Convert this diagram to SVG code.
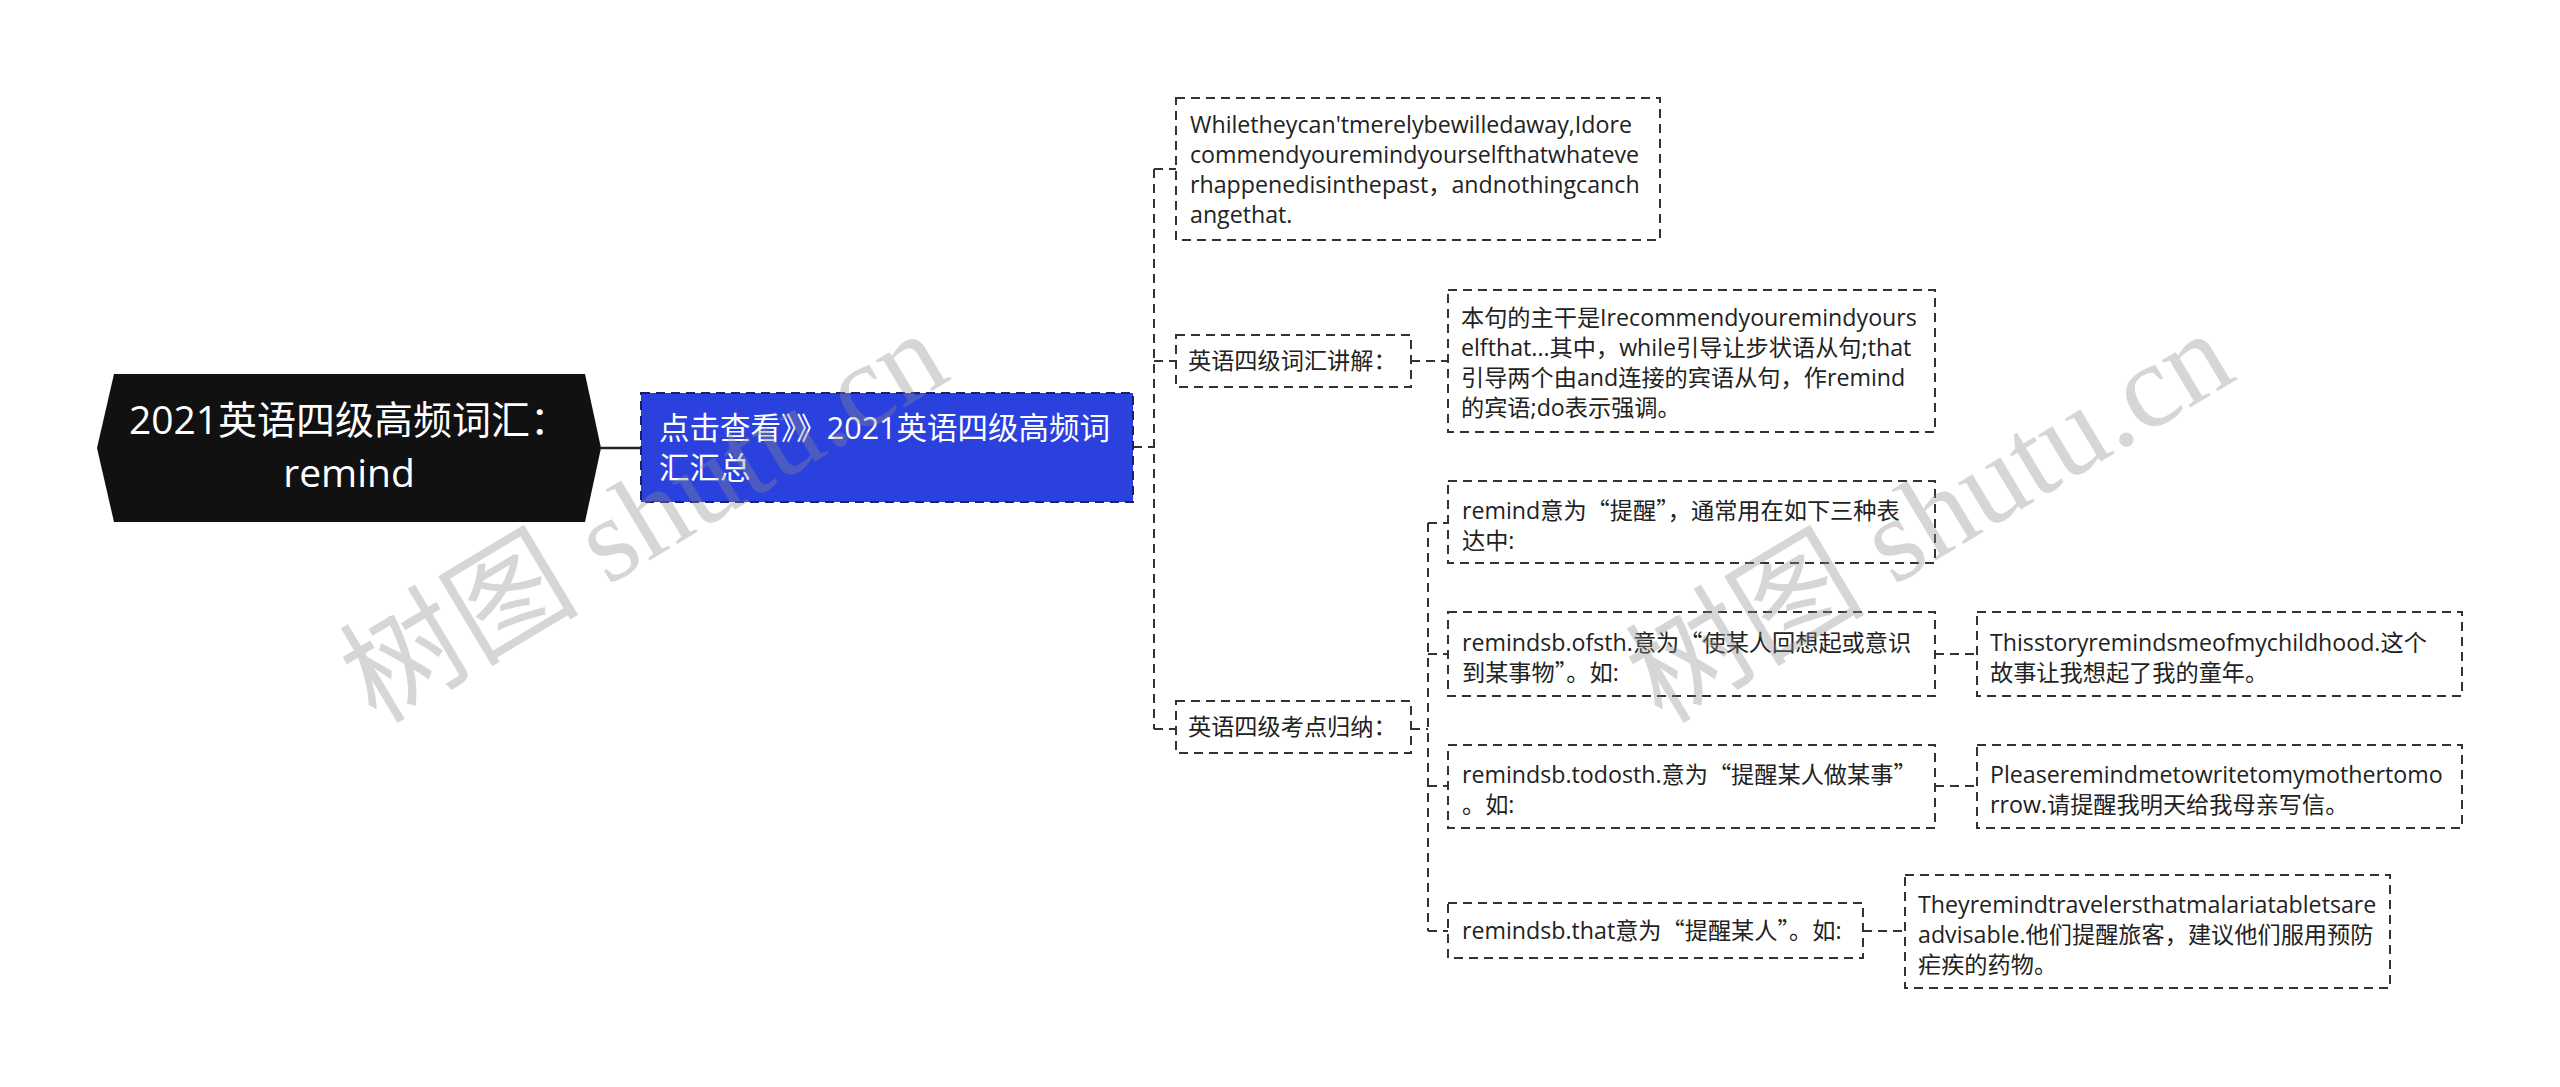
<svg xmlns="http://www.w3.org/2000/svg" width="2560" height="1087" viewBox="0 0 2560 1087">
<style>
.box{fill:#fff;stroke:#333;stroke-width:2;stroke-dasharray:9 6}
.t{font-family:"Open Sans","Noto Sans CJK SC",sans-serif;font-size:23.2px;fill:#222}
.q{font-family:"Noto Sans CJK SC",sans-serif}
.c{fill:none;stroke:#333;stroke-width:2;stroke-dasharray:9 6}
.wm{font-family:"Liberation Serif","Noto Sans CJK SC",serif;font-size:120px;fill:#8c8c8c;opacity:0.35}
</style>
<rect x="0" y="0" width="2560" height="1087" fill="#fff"/>

<g id="connectors">
  <line x1="601" y1="448" x2="641" y2="448" stroke="#222" stroke-width="2.5"/>
  <path class="c" d="M1133 447 H1154"/>
  <path class="c" d="M1154 169 V729"/>
  <path class="c" d="M1154 169 H1176"/>
  <path class="c" d="M1154 361 H1176"/>
  <path class="c" d="M1154 729 H1176"/>
  <path class="c" d="M1411 361 H1448"/>
  <path class="c" d="M1411 729 H1428"/>
  <path class="c" d="M1428 523 V931"/>
  <path class="c" d="M1428 523 H1448"/>
  <path class="c" d="M1428 654 H1448"/>
  <path class="c" d="M1428 786 H1448"/>
  <path class="c" d="M1428 931 H1448"/>
  <path class="c" d="M1935 654 H1977"/>
  <path class="c" d="M1935 786 H1977"/>
  <path class="c" d="M1863 931 H1905"/>
</g>

<g id="root">
  <polygon points="114,374 585,374 601,448 585,522 114,522 97,448" fill="#111"/>
  <text x="349" y="434" text-anchor="middle" font-family="Open Sans, Noto Sans CJK SC, sans-serif" font-size="39" fill="#fff">2021英语四级高频词汇：</text>
  <text x="349" y="487" text-anchor="middle" font-family="Open Sans, Noto Sans CJK SC, sans-serif" font-size="39" fill="#fff">remind</text>
</g>

<g id="link">
  <rect x="641" y="393" width="492" height="109" fill="#2A41DE" stroke="#1a2270" stroke-width="2" stroke-dasharray="9 6"/>
  <text x="659" y="439" font-family="Open Sans, Noto Sans CJK SC, sans-serif" font-size="30.5" fill="#fff">点击查看》》2021英语四级高频词</text>
  <text x="659" y="479" font-family="Open Sans, Noto Sans CJK SC, sans-serif" font-size="30.5" fill="#fff">汇汇总</text>
</g>

<g id="example-sentence">
  <rect class="box" x="1176" y="98" width="484" height="142"/>
  <text class="t" x="1190" y="133">Whiletheycan'tmerelybewilledaway,Idore</text>
  <text class="t" x="1190" y="163">commendyouremindyourselfthatwhateve</text>
  <text class="t" x="1190" y="193">rhappenedisinthepast，andnothingcanch</text>
  <text class="t" x="1190" y="223">angethat.</text>
</g>

<g id="vocab-explain">
  <rect class="box" x="1176" y="335" width="235" height="52"/>
  <text class="t" x="1188" y="369">英语四级词汇讲解：</text>
</g>

<g id="explain-detail">
  <rect class="box" x="1448" y="290" width="487" height="142"/>
  <text class="t" x="1461" y="326">本句的主干是Irecommendyouremindyours</text>
  <text class="t" x="1461" y="356">elfthat...其中，while引导让步状语从句;that</text>
  <text class="t" x="1461" y="386">引导两个由and连接的宾语从句，作remind</text>
  <text class="t" x="1461" y="416">的宾语;do表示强调。</text>
</g>

<g id="exam-points">
  <rect class="box" x="1176" y="701" width="235" height="52"/>
  <text class="t" x="1188" y="735">英语四级考点归纳：</text>
</g>

<g id="meaning">
  <rect class="box" x="1448" y="481" width="487" height="82"/>
  <text class="t" x="1462" y="519">remind意为<tspan class="q">“</tspan>提醒<tspan class="q">”</tspan>，通常用在如下三种表</text>
  <text class="t" x="1462" y="549">达中:</text>
</g>

<g id="usage-of">
  <rect class="box" x="1448" y="612" width="487" height="84"/>
  <text class="t" x="1462" y="651">remindsb.ofsth.意为<tspan class="q">“</tspan>使某人回想起或意识</text>
  <text class="t" x="1462" y="681">到某事物<tspan class="q">”</tspan>。如:</text>
</g>

<g id="example-of">
  <rect class="box" x="1977" y="612" width="485" height="84"/>
  <text class="t" x="1990" y="651">Thisstoryremindsmeofmychildhood.这个</text>
  <text class="t" x="1990" y="681">故事让我想起了我的童年。</text>
</g>

<g id="usage-todo">
  <rect class="box" x="1448" y="745" width="487" height="83"/>
  <text class="t" x="1462" y="783">remindsb.todosth.意为<tspan class="q">“</tspan>提醒某人做某事<tspan class="q">”</tspan></text>
  <text class="t" x="1462" y="813">。如:</text>
</g>

<g id="example-todo">
  <rect class="box" x="1977" y="745" width="485" height="83"/>
  <text class="t" x="1990" y="783">Pleaseremindmetowritetomymothertomo</text>
  <text class="t" x="1990" y="813">rrow.请提醒我明天给我母亲写信。</text>
</g>

<g id="usage-that">
  <rect class="box" x="1448" y="903" width="415" height="55"/>
  <text class="t" x="1462" y="939">remindsb.that意为<tspan class="q">“</tspan>提醒某人<tspan class="q">”</tspan>。如:</text>
</g>

<g id="example-that">
  <rect class="box" x="1905" y="875" width="485" height="113"/>
  <text class="t" x="1918" y="913">Theyremindtravelersthatmalariatabletsare</text>
  <text class="t" x="1918" y="943">advisable.他们提醒旅客，建议他们服用预防</text>
  <text class="t" x="1918" y="973">疟疾的药物。</text>
</g>

<g id="watermarks">
  <text class="wm" x="645" y="557" text-anchor="middle" transform="rotate(-31 645 519)">树图 shutu.cn</text>
  <text class="wm" x="1931" y="557" text-anchor="middle" transform="rotate(-31 1931 519)">树图 shutu.cn</text>
</g>
</svg>
